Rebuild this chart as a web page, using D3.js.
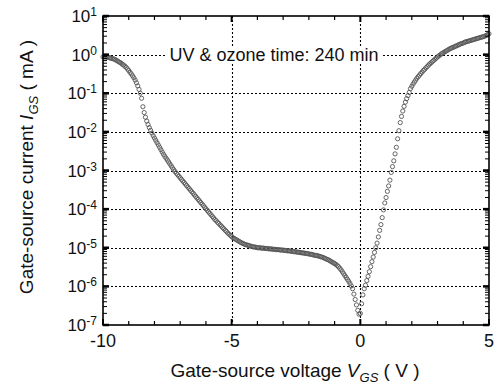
<!DOCTYPE html>
<html>
<head>
<meta charset="utf-8">
<script src="https://cdn.jsdelivr.net/npm/d3@7"></script>
<style>
  html, body { margin: 0; padding: 0; background: #fff; }
  svg { display: block; font-family: "Liberation Sans", Arial, Helvetica, sans-serif; }
</style>
</head>
<body>
<svg id="chart" width="497" height="385"></svg>
<script>
// Gate-source sweep: V_GS from -10 V to +5 V in 0.05 V steps
const sweepStart = -10;
const sweepStep = 0.05;

// log10 of gate-source current I_GS (mA), one value per sweep step
const logIgs = [
  // -10.00 .. -8.05
  -0.06, -0.06, -0.06, -0.07, -0.07, -0.08, -0.09, -0.10, -0.11, -0.12,
  -0.14, -0.16, -0.18, -0.20, -0.22, -0.25, -0.27, -0.30, -0.33, -0.37,
  -0.41, -0.46, -0.50, -0.55, -0.60, -0.66, -0.73, -0.81, -0.90, -1.00,
  -1.13, -1.35, -1.50, -1.62, -1.72, -1.81, -1.89, -1.96, -2.03, -2.10,
  // -8.00 .. -6.05
  -2.16, -2.22, -2.28, -2.34, -2.40, -2.46, -2.52, -2.58, -2.63, -2.68,
  -2.73, -2.78, -2.83, -2.88, -2.93, -2.98, -3.03, -3.07, -3.11, -3.15,
  -3.19, -3.23, -3.27, -3.31, -3.35, -3.39, -3.43, -3.47, -3.51, -3.55,
  -3.59, -3.63, -3.67, -3.71, -3.75, -3.79, -3.83, -3.87, -3.91, -3.95,
  // -6.00 .. -4.05
  -3.99, -4.03, -4.07, -4.11, -4.15, -4.19, -4.23, -4.27, -4.30, -4.34,
  -4.37, -4.41, -4.44, -4.48, -4.51, -4.55, -4.58, -4.62, -4.65, -4.68,
  -4.71, -4.74, -4.76, -4.78, -4.80, -4.82, -4.84, -4.86, -4.88, -4.89,
  -4.91, -4.92, -4.93, -4.94, -4.95, -4.96, -4.97, -4.98, -4.98, -4.99,
  // -4.00 .. -2.05
  -5.00, -5.00, -5.00, -5.01, -5.01, -5.01, -5.02, -5.02, -5.02, -5.03,
  -5.03, -5.03, -5.04, -5.04, -5.04, -5.05, -5.05, -5.05, -5.06, -5.06,
  -5.06, -5.07, -5.07, -5.08, -5.08, -5.08, -5.09, -5.09, -5.10, -5.10,
  -5.11, -5.11, -5.12, -5.12, -5.13, -5.13, -5.14, -5.14, -5.15, -5.15,
  // -2.00 .. -0.05
  -5.16, -5.17, -5.17, -5.18, -5.19, -5.20, -5.20, -5.21, -5.22, -5.23,
  -5.24, -5.25, -5.27, -5.28, -5.30, -5.31, -5.33, -5.35, -5.37, -5.39,
  -5.41, -5.43, -5.46, -5.49, -5.53, -5.57, -5.62, -5.67, -5.72, -5.77,
  -5.82, -5.87, -5.93, -5.99, -6.06, -6.20, -6.34, -6.48, -6.62, -6.72,
  // 0.00 .. 1.95
  -6.70, -6.45, -6.22, -6.06, -5.97, -5.85, -5.74, -5.62, -5.49, -5.36,
  -5.24, -5.12, -5.00, -4.88, -4.72, -4.55, -4.40, -4.22, -4.02, -3.84,
  -3.70, -3.54, -3.40, -3.25, -3.05, -2.90, -2.75, -2.57, -2.40, -2.18,
  -1.97, -1.76, -1.60, -1.46, -1.34, -1.23, -1.14, -1.06, -0.98, -0.88,
  // 2.00 .. 3.95
  -0.82, -0.76, -0.71, -0.66, -0.61, -0.57, -0.53, -0.49, -0.45, -0.41,
  -0.38, -0.34, -0.31, -0.27, -0.24, -0.21, -0.18, -0.15, -0.12, -0.09,
  -0.06, -0.03, -0.01, 0.02, 0.04, 0.06, 0.08, 0.10, 0.12, 0.14,
  0.16, 0.17, 0.19, 0.20, 0.22, 0.23, 0.25, 0.26, 0.28, 0.29,
  // 4.00 .. 5.00
  0.30, 0.32, 0.33, 0.34, 0.35, 0.36, 0.37, 0.38, 0.39, 0.40,
  0.41, 0.42, 0.43, 0.44, 0.45, 0.46, 0.47, 0.48, 0.50, 0.52,
  0.54
];

const xTickValues = [-10, -5, 0, 5];
const xTickLabels = ["-10", "-5", "0", "5"];
const xMinorTicks = [-9, -8, -7, -6, -4, -3, -2, -1, 1, 2, 3, 4];
const yDecades = [-7, -6, -5, -4, -3, -2, -1, 0, 1];
const xGridValues = [-5, 0];
const yGridDecades = [-6, -5, -4, -3, -2, -1, 0];

const annotation = "UV & ozone time: 240 min";

const svg = d3.select("#chart");
const plot = { left: 103, right: 489, top: 16, bottom: 325 };

const x = d3.scaleLinear().domain([-10, 5]).range([plot.left, plot.right]);
const y = d3.scaleLog().domain([1e-7, 1e1]).range([plot.bottom, plot.top]);

const points = logIgs.map((v, i) => ({ vgs: sweepStart + i * sweepStep, igs: Math.pow(10, v) }));

// dotted grid
const grid = svg.append("g").attr("stroke", "#000").attr("stroke-width", 1.1)
  .attr("stroke-dasharray", "2,2");
grid.selectAll("line.h").data(yGridDecades).join("line")
  .attr("class", "h")
  .attr("x1", plot.left).attr("x2", plot.right)
  .attr("y1", d => Math.round(y(Math.pow(10, d))) + 0.5)
  .attr("y2", d => Math.round(y(Math.pow(10, d))) + 0.5);
grid.selectAll("line.v").data(xGridValues).join("line")
  .attr("class", "v")
  .attr("y1", plot.top).attr("y2", plot.bottom)
  .attr("x1", d => Math.round(x(d)) + 0.5)
  .attr("x2", d => Math.round(x(d)) + 0.5);

// annotation with white backing over the grid line
const noteX = 274, noteY = 61;
const note = svg.append("g");
const noteText = note.append("text")
  .attr("x", noteX).attr("y", noteY)
  .attr("text-anchor", "middle")
  .attr("font-size", 18)
  .attr("fill", "#111")
  .text(annotation);
const bb = noteText.node().getBBox();
note.insert("rect", "text")
  .attr("x", bb.x - 3).attr("y", bb.y + 2)
  .attr("width", bb.width + 6).attr("height", bb.height - 4)
  .attr("fill", "#fff");

// data markers
svg.append("g")
  .selectAll("circle").data(points).join("circle")
  .attr("cx", d => x(d.vgs))
  .attr("cy", d => y(d.igs))
  .attr("r", 2.1)
  .attr("fill", "none")
  .attr("stroke", "#555")
  .attr("stroke-width", 0.9);

// axes: ticks on all four sides, pointing inward
const axes = svg.append("g").attr("stroke", "#000");

const minorY = [];
for (let d = -7; d < 1; d++) {
  for (let m = 2; m <= 9; m++) minorY.push(m * Math.pow(10, d));
}
[plot.left, plot.right].forEach((edge, side) => {
  const dir = side === 0 ? 1 : -1;
  axes.selectAll(null).data(minorY).join("line")
    .attr("x1", edge).attr("x2", edge + dir * 4)
    .attr("y1", d => y(d)).attr("y2", d => y(d))
    .attr("stroke-width", 1);
  axes.selectAll(null).data(yDecades).join("line")
    .attr("x1", edge).attr("x2", edge + dir * 6)
    .attr("y1", d => y(Math.pow(10, d))).attr("y2", d => y(Math.pow(10, d)))
    .attr("stroke-width", 2.5);
});
[plot.bottom, plot.top].forEach((edge, side) => {
  const dir = side === 0 ? -1 : 1;
  axes.selectAll(null).data(xMinorTicks).join("line")
    .attr("y1", edge).attr("y2", edge + dir * 4)
    .attr("x1", d => x(d)).attr("x2", d => x(d))
    .attr("stroke-width", 1.2);
  axes.selectAll(null).data(xTickValues).join("line")
    .attr("y1", edge).attr("y2", edge + dir * 6)
    .attr("x1", d => x(d)).attr("x2", d => x(d))
    .attr("stroke-width", 2);
});

// frame
svg.append("rect")
  .attr("x", plot.left).attr("y", plot.top)
  .attr("width", plot.right - plot.left).attr("height", plot.bottom - plot.top)
  .attr("fill", "none").attr("stroke", "#000").attr("stroke-width", 1.6);

// y tick labels: 10 with superscript exponent
const yLabels = svg.append("g").attr("fill", "#111");
yDecades.forEach(d => {
  const t = yLabels.append("text")
    .attr("x", 97).attr("y", y(Math.pow(10, d)) + 6)
    .attr("text-anchor", "end")
    .attr("font-size", 17)
    .text("10");
  t.append("tspan").attr("dy", -6).attr("font-size", 12).text(String(d));
});

// x tick labels
svg.append("g").selectAll("text").data(xTickValues).join("text")
  .attr("x", d => x(d)).attr("y", 347)
  .attr("text-anchor", "middle")
  .attr("font-size", 18)
  .attr("fill", "#111")
  .text((d, i) => xTickLabels[i]);

// x axis title
const xTitle = svg.append("text")
  .attr("x", 295).attr("y", 377)
  .attr("text-anchor", "middle")
  .attr("font-size", 19)
  .attr("fill", "#111");
xTitle.append("tspan").text("Gate-source voltage  ");
xTitle.append("tspan").attr("font-style", "italic").text("V");
xTitle.append("tspan").attr("font-style", "italic").attr("font-size", 13).attr("dy", 5).text("GS");
xTitle.append("tspan").attr("dy", -5).text("  ( V )");

// y axis title
const yTitle = svg.append("text")
  .attr("transform", "translate(33,167) rotate(-90)")
  .attr("text-anchor", "middle")
  .attr("font-size", 19)
  .attr("fill", "#111");
yTitle.append("tspan").text("Gate-source current ");
yTitle.append("tspan").attr("font-style", "italic").text("I");
yTitle.append("tspan").attr("font-style", "italic").attr("font-size", 13).attr("dy", 5).text("GS");
yTitle.append("tspan").attr("dy", -5).text("  ( mA )");
</script>
</body>
</html>
